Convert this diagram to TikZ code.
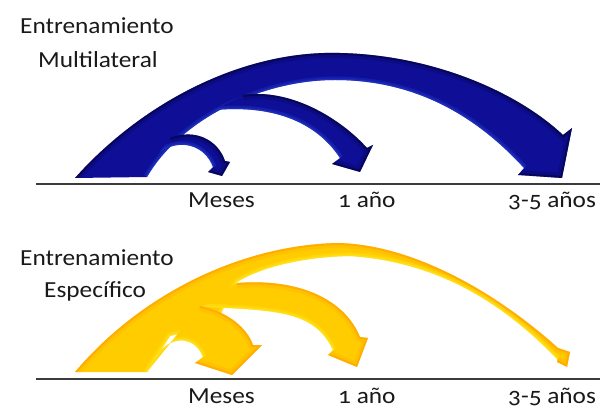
\documentclass[tikz,border=0pt]{standalone}
\usepackage{fontspec}
\setmainfont{Carlito}[Numbers=OldStyle,FakeStretch=1.1]
\definecolor{bluefill}{RGB}{14,14,150}
\definecolor{bluerim}{RGB}{0,0,50}
\definecolor{bluelight}{RGB}{40,70,215}
\definecolor{yelfill}{RGB}{255,204,0}
\definecolor{yelrim}{RGB}{255,150,0}
\definecolor{yellight}{RGB}{255,240,40}
\definecolor{axiscol}{RGB}{60,60,60}
\newcommand\myarrowshape[6]{%
  \fill[#4] #1 -- #2 -- #3 -- cycle;
  \begin{scope}
    \clip #1 -- #2 -- #3 -- cycle;
    \draw[#5,line width=10pt,opacity=0.2] #1 -- #2;
    \draw[#5,line width=4pt,opacity=0.45] #1 -- #2;
    \draw[#6,line width=7pt,opacity=0.3] #3;
    \draw[#6,line width=3pt,opacity=0.4] #3;
  \end{scope}}
\begin{document}
\begin{tikzpicture}[x=1pt,y=-1pt,
  lbl/.style={inner sep=0pt,anchor=base west,text=black!90,font=\fontsize{23}{27}\selectfont},
  axisline/.style={draw=axiscol,line width=1.4pt}]
\useasboundingbox (0,0) rectangle (610,411);
% ---------- top (blue) ----------
\myarrowshape{(75,178) .. controls (140,105) and (240,50) .. (340,53) .. controls (430,55) and (515,90) .. (563,135)}
  {(572,128) -- (562,178) -- (518,175)}
  {(524,168) .. controls (480,120) and (420,80) .. (335,80) .. controls (260,80) and (180,120) .. (147,177)}
  {bluefill}{bluerim}{bluelight}
\myarrowshape{(243,95) .. controls (290,88) and (340,118) .. (367,148)}
  {(373,145) -- (360,172) -- (332,164)}
  {(340,158) .. controls (315,120) and (270,105) .. (215,110)}
  {bluefill}{bluerim}{bluelight}
\myarrowshape{(170,138) .. controls (195,128) and (218,140) .. (225,161)}
  {(230,162) -- (222,176) -- (208,172)}
  {(213,167) .. controls (205,145) and (180,138) .. (160,152)}
  {bluefill}{bluerim}{bluelight}
\coordinate (l1a) at (36,184);
\coordinate (l1b) at (600,184);
\draw[axisline] (l1a) -- (l1b);
\node[lbl] (t1) at (20,34) {Entrenamiento};
\node[lbl] (t2) at (38,68) {Multilateral};
\node[lbl] (m1) at (188,208) {Meses};
\node[lbl] (a1) at (338,208) {1 año};
\node[lbl] (c1) at (508,208) {3-5 años};
% ---------- bottom (yellow) ----------
\myarrowshape{(75,372) .. controls (140,295) and (240,245) .. (338,243) .. controls (420,245) and (505,300) .. (558,348)}
  {(570,352) -- (567,367) -- (557,362)}
  {(557,359) .. controls (505,305) and (440,262) .. (350,256) .. controls (300,257) and (260,268) .. (237,282) -- (215,325) -- (170,336) -- (147,372)}
  {yelfill}{yelrim}{yellight}
\myarrowshape{(237,283) .. controls (300,278) and (345,300) .. (360,337)}
  {(368,338) -- (357,367) -- (328,355)}
  {(333,350) .. controls (315,312) and (280,310) .. (203,307)}
  {yelfill}{yelrim}{yellight}
\myarrowshape{(200,306) .. controls (230,312) and (248,330) .. (253,345)}
  {(262,345) -- (232,375) -- (195,363)}
  {(203,357) .. controls (195,335) and (165,330) .. (147,372)}
  {yelfill}{yelrim}{yellight}
\coordinate (l2a) at (36,379);
\coordinate (l2b) at (600,379);
\draw[axisline] (l2a) -- (l2b);
\node[lbl] (t3) at (20,266) {Entrenamiento};
\node[lbl] (t4) at (44,298) {Específico};
\node[lbl] (m2) at (188,403) {Meses};
\node[lbl] (a2) at (338,403) {1 año};
\node[lbl] (c2) at (508,403) {3-5 años};
\end{tikzpicture}
\end{document}
